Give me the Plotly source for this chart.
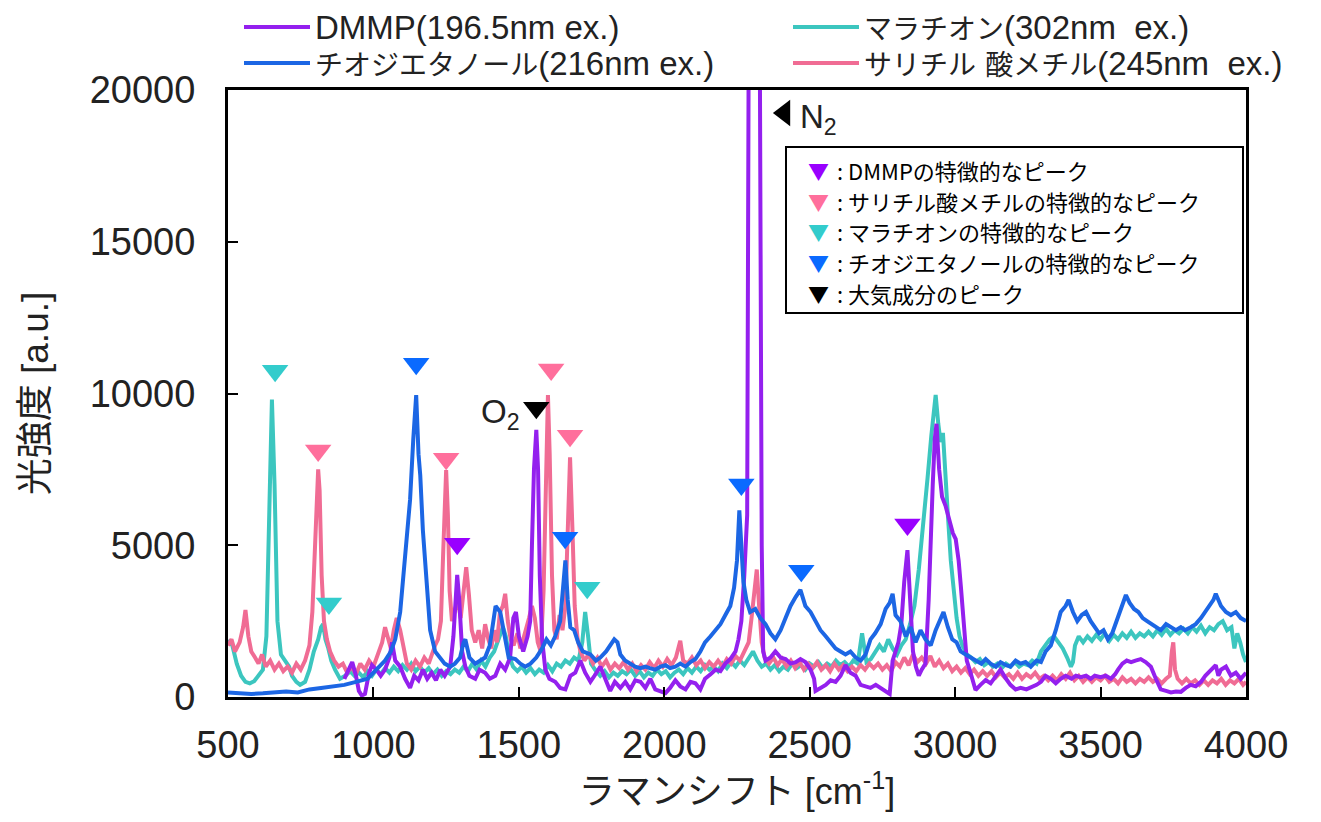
import plotly.graph_objects as go

# ---------------- data ----------------
dmmp_x = [900, 915, 927, 940, 950, 960, 971, 985, 995, 1010, 1025, 1040, 1055, 1064, 1075, 1092, 1109, 1126, 1140, 1155,
          1170, 1185, 1200, 1215, 1230, 1245, 1264, 1275, 1281, 1288, 1295, 1305, 1316, 1330, 1350, 1365, 1384, 1400, 1419,
          1436, 1453, 1470, 1481, 1490, 1500, 1515, 1530, 1539, 1545, 1552, 1560, 1566, 1572, 1580, 1591, 1605, 1625, 1642,
          1660, 1677, 1694, 1711, 1728, 1746, 1760, 1780, 1797, 1814, 1830, 1849, 1866, 1883, 1900, 1918, 1935, 1952, 1969,
          1987, 2004, 2020, 2038, 2055, 2073, 2090, 2107, 2124, 2140, 2159, 2176, 2193, 2210, 2227, 2245, 2255, 2265, 2275,
          2285, 2293, 2308, 2325, 2335, 2340, 2348, 2365, 2382, 2400, 2417, 2434, 2452, 2468, 2485, 2503, 2515, 2520, 2537,
          2555, 2572, 2589, 2606, 2623, 2640, 2658, 2675, 2692, 2709, 2727, 2744, 2761, 2775, 2785, 2795, 2805, 2815, 2825,
          2836, 2845, 2855, 2865, 2875, 2885, 2898, 2909, 2916, 2923, 2930, 2936, 2945, 2955, 2967, 2980, 2992, 3002, 3012,
          3020, 3030, 3040, 3053, 3070, 3087, 3105, 3122, 3140, 3156, 3175, 3190, 3208, 3225, 3245, 3260, 3280, 3295, 3311,
          3329, 3346, 3363, 3380, 3400, 3415, 3432, 3450, 3466, 3480, 3500, 3518, 3535, 3550, 3560, 3575, 3590, 3605, 3620,
          3638, 3655, 3673, 3690, 3707, 3725, 3742, 3759, 3776, 3793, 3810, 3827, 3845, 3860, 3879, 3896, 3905, 3914, 3931,
          3948, 3965, 3982, 4000]
dmmp_y = [600, 900, 1150, 700, 200, 50, 100, 800, 1050, 900, 700, 900, 1300, 1800, 1200, 1000, 600, 300, 700, 550,
          900, 600, 800, 550, 900, 700, 1000, 2000, 3000, 4020, 3200, 1500, 1000, 700, 600, 900, 800, 600, 700,
          1100, 900, 1300, 2600, 2800, 2000, 1500, 2000, 2500, 5000, 7500, 8800, 7500, 4000, 1900, 900, 600, 500, 300,
          250, 700, 800, 1200, 800, 500, 700, 1000, 600, 200, 500, 300, 500, 250, 550, 500, 300, 600, 250,
          200, 130, 300, 550, 350, 250, 500, 450, 250, 600, 750, 900, 850, 1100, 1250, 1500, 1900, 2500, 4000,
          6000, 30000, 60000, 30000, 5000, 1500, 1200, 1300, 1500, 1300, 1250, 1100, 1150, 1250, 1150, 900, 600, 200, 300,
          400, 550, 500, 700, 1050, 800, 700, 400, 350, 300, 400, 300, 200, 100, 1200, 1500, 1800, 2400, 3800,
          4840, 3200, 1500, 1000, 700, 900, 1100, 3200, 5500, 7000, 8500, 9000, 7500, 6600, 6300, 5800, 5400, 5200, 4500,
          3600, 2200, 1200, 800, 230, 400, 560, 450, 700, 900, 600, 400, 250, 300, 250, 300, 400, 500, 700,
          600, 450, 600, 700, 600, 700, 650, 700, 600, 700, 650, 700, 600, 750, 900, 1100, 1200, 1150, 1200,
          1250, 1150, 1000, 600, 250, 200, 150, 180, 170, 300, 400, 350, 500, 700, 900, 1050, 700, 900, 1000,
          700, 800, 600, 800]

thio_x = [500, 540, 580, 620, 660, 700, 740, 780, 820, 860, 900, 940, 980, 1000, 1020, 1040, 1060, 1075, 1092, 1109,
          1126, 1137, 1147, 1155, 1161, 1170, 1178, 1186, 1195, 1212, 1230, 1245, 1264, 1280, 1298, 1310, 1316, 1330,
          1350, 1365, 1384, 1400, 1412, 1420, 1436, 1450, 1465, 1488, 1505, 1522, 1540, 1560, 1580, 1595, 1610, 1625,
          1642, 1652, 1660, 1668, 1677, 1690, 1704, 1720, 1746, 1765, 1780, 1800, 1814, 1828, 1839, 1849, 1865, 1883,
          1900, 1918, 1935, 1950, 1969, 1987, 2004, 2020, 2038, 2055, 2073, 2090, 2107, 2124, 2140, 2159, 2176, 2193,
          2210, 2227, 2240, 2250, 2258, 2264, 2272, 2282, 2295, 2313, 2330, 2348, 2365, 2382, 2400, 2417, 2434, 2452,
          2468, 2485, 2503, 2520, 2537, 2555, 2572, 2589, 2606, 2623, 2640, 2658, 2675, 2692, 2709, 2725, 2744, 2761,
          2775, 2785, 2795, 2812, 2830, 2847, 2864, 2881, 2898, 2916, 2933, 2950, 2960, 2975, 2990, 3005, 3019, 3036,
          3053, 3070, 3090, 3105, 3122, 3140, 3156, 3175, 3190, 3208, 3225, 3242, 3260, 3280, 3295, 3311, 3329, 3346,
          3363, 3380, 3390, 3405, 3420, 3435, 3450, 3466, 3480, 3495, 3510, 3525, 3540, 3555, 3570, 3587, 3600, 3615,
          3630, 3645, 3660, 3675, 3690, 3707, 3725, 3740, 3759, 3776, 3790, 3810, 3827, 3845, 3860, 3875, 3888, 3896,
          3905, 3914, 3931, 3948, 3965, 3982, 4000]
thio_y = [150, 120, 100, 120, 150, 180, 150, 250, 300, 350, 400, 500, 600, 800, 1000, 1200, 1500, 1900, 2800, 4500,
          6500, 8500, 9950, 8000, 7300, 5500, 4400, 3000, 2200, 1500, 1300, 1100, 1000, 1100, 1300, 1800, 1900, 1300,
          1100, 1200, 1300, 1700, 2600, 3000, 2800, 2000, 1300, 1250, 1100, 1000, 1100, 1300, 1600, 1900, 1700, 2000,
          2500, 3600, 4500, 3200, 2300, 2200, 1800, 1500, 1400, 1200, 1300, 1500, 1700, 1900, 1800, 1400, 1200, 1100,
          1000, 950, 1000, 950, 900, 1000, 1050, 950, 1000, 1100, 1000, 1150, 1250, 1500, 1800, 2000, 2200, 2400,
          2700, 3000, 3600, 4500, 6150, 5000, 3800, 3200, 2800, 2900, 2600, 2400, 2100, 1900, 2200, 2600, 3000, 3300,
          3530, 3000, 2800, 2500, 2200, 2000, 1800, 1600, 1500, 1400, 1500, 1300, 1200, 1400, 1900, 2100, 2400, 2900,
          3100, 3400, 2700, 2500, 2000, 2300, 1800, 2200, 1900, 1700, 2200, 2600, 2800, 2300, 1900, 1800, 1500, 1400,
          1300, 1200, 1100, 1250, 1100, 1000, 1150, 1050, 1000, 1200, 1100, 1150, 1000, 1200, 1150, 1500, 1700, 2200,
          2800, 3000, 3200, 2800, 2500, 2700, 2800, 2500, 2300, 2100, 2200, 1900, 2100, 2500, 2900, 3360, 3100, 2900,
          2800, 2600, 2500, 2400, 2300, 2200, 2400, 2300, 2200, 2300, 2200, 2300, 2400, 2600, 2800, 3000, 3200, 3400,
          3200, 3000, 2800, 2700, 2800, 2600, 2500]

mala_x = [500, 515, 530, 545, 560, 575, 590, 605, 620, 632, 642, 651, 660, 670, 682, 696, 710, 720, 735, 748,
          765, 780, 795, 810, 820, 827, 835, 845, 855, 868, 885, 903, 920, 935, 950, 965, 980, 995, 1010, 1025,
          1040, 1055, 1070, 1085, 1100, 1115, 1130, 1145, 1160, 1175, 1190, 1205, 1220, 1235, 1250, 1265, 1280, 1295,
          1310, 1325, 1340, 1355, 1370, 1385, 1400, 1415, 1430, 1445, 1455, 1468, 1480, 1495, 1510, 1525, 1540, 1555,
          1570, 1585, 1600, 1615, 1630, 1645, 1660, 1675, 1690, 1705, 1718, 1728, 1738, 1748, 1762, 1780, 1795, 1810,
          1825, 1840, 1855, 1870, 1885, 1900, 1915, 1930, 1945, 1960, 1975, 1990, 2005, 2020, 2035, 2050, 2065, 2080,
          2095, 2110, 2125, 2140, 2155, 2170, 2185, 2200, 2215, 2230, 2245, 2260, 2275, 2290, 2305, 2320, 2335, 2350,
          2365, 2380, 2395, 2410, 2425, 2440, 2455, 2470, 2485, 2500, 2515, 2530, 2545, 2560, 2575, 2590, 2605, 2620,
          2635, 2650, 2665, 2680, 2695, 2710, 2725, 2740, 2755, 2770, 2785, 2800, 2815, 2830, 2845, 2860, 2875, 2890,
          2905, 2918, 2925, 2933, 2942, 2950, 2958, 2966, 2975, 2985, 2995, 3005, 3015, 3025, 3040, 3055, 3070, 3085,
          3100, 3115, 3130, 3145, 3160, 3175, 3190, 3205, 3220, 3235, 3250, 3265, 3280, 3295, 3310, 3325, 3340, 3355,
          3370, 3385, 3398, 3405, 3412, 3425, 3440, 3455, 3470, 3485, 3500, 3515, 3530, 3545, 3560, 3575, 3590, 3605,
          3620, 3635, 3650, 3665, 3680, 3695, 3710, 3725, 3740, 3755, 3770, 3785, 3800, 3815, 3830, 3845, 3860, 3875,
          3890, 3905, 3920, 3935, 3950, 3960, 3970, 3980, 3990, 4000]
mala_y = [1880, 1700, 1100, 700, 500, 450, 520, 700, 900, 2000, 6000, 9800, 7000, 2500, 1400, 1200, 1000, 700, 500, 400,
          500, 900, 1500, 1900, 2300, 2400, 1900, 1600, 1200, 900, 600, 700, 850, 700, 800, 650, 850, 700, 900, 750,
          950, 800, 1000, 850, 1050, 900, 1100, 850, 1000, 800, 950, 750, 900, 700, 850, 750, 900, 800,
          1000, 850, 1100, 900, 1200, 1000, 1300, 1500, 1900, 2300, 2000, 1300, 1000, 850, 1000, 800, 950, 750,
          900, 800, 1050, 850, 1100, 1000, 1200, 1100, 1300, 1200, 1800, 2800, 2000, 1100, 900, 700, 850, 650,
          800, 700, 850, 750, 900, 700, 850, 650, 800, 700, 900, 750, 850, 650, 800, 900, 750, 950,
          800, 1000, 850, 1050, 900, 1000, 850, 1100, 950, 1150, 1000, 1200, 1050, 1300, 1500, 1200, 1000, 1100,
          900, 1050, 850, 1000, 900, 1100, 950, 1050, 900, 1100, 1000, 1150, 950, 1100, 1000, 1200, 1050, 1150,
          1000, 1200, 1100, 2100, 1150, 1250, 1450, 1700, 1500, 1900, 1600, 1400, 1700, 1900, 2400, 3000, 4200, 5600,
          7200, 8600, 9200, 9950, 9000, 8400, 8700, 7600, 6000, 4500, 3500, 2600, 2000, 1700, 1400, 1300, 1150, 1250,
          1050, 1150, 1000, 1100, 950, 1100, 1000, 1150, 1000, 1100, 1050, 1200, 1100, 1500, 1700, 1900, 2000, 1800,
          1600, 1300, 1000, 1150, 1700, 2000, 1800, 2000, 1850, 2050, 1900, 2100, 1850, 2050, 1900, 2100, 1950, 2150,
          1950, 2100, 2000, 2150, 2000, 2200, 2050, 2250, 2050, 2200, 2100, 2250, 2100, 2300, 2150, 2350, 2100, 2300,
          2200, 2400, 2500, 2200, 2300, 1600, 2100, 1800, 1400, 1150]

sali_x = [500, 512, 524, 540, 552, 560, 570, 580, 593, 605, 617, 630, 645, 660, 675, 690, 705, 720, 735, 750,
          765, 780, 790, 798, 805, 810, 815, 822, 830, 840, 851, 865, 880, 895, 910, 925, 940, 955, 970, 985,
          1000, 1015, 1030, 1040, 1050, 1060, 1070, 1080, 1092, 1105, 1115, 1130, 1145, 1160, 1175, 1190, 1200, 1212,
          1222, 1232, 1240, 1246, 1250, 1256, 1262, 1270, 1280, 1290, 1300, 1310, 1319, 1328, 1338, 1350, 1362, 1374,
          1384, 1395, 1405, 1415, 1425, 1435, 1445, 1453, 1462, 1472, 1482, 1495, 1505, 1515, 1525, 1535, 1545, 1555,
          1565, 1575, 1585, 1592, 1600, 1606, 1614, 1622, 1630, 1640, 1650, 1660, 1668, 1676, 1684, 1692, 1702, 1712,
          1725, 1740, 1755, 1770, 1785, 1800, 1815, 1830, 1845, 1860, 1875, 1890, 1905, 1920, 1935, 1950, 1965, 1980,
          1995, 2010, 2025, 2040, 2055, 2065, 2080, 2095, 2110, 2125, 2140, 2155, 2170, 2185, 2200, 2215, 2230, 2245,
          2260, 2275, 2290, 2300, 2310, 2318, 2326, 2335, 2345, 2360, 2375, 2390, 2405, 2420, 2435, 2450, 2465, 2480,
          2495, 2510, 2525, 2540, 2555, 2570, 2585, 2600, 2615, 2630, 2645, 2660, 2675, 2690, 2705, 2720, 2735, 2750,
          2765, 2780, 2795, 2810, 2825, 2840, 2855, 2870, 2885, 2900, 2915, 2930, 2945, 2960, 2975, 2990, 3005, 3020,
          3035, 3050, 3065, 3080, 3095, 3110, 3125, 3140, 3155, 3170, 3185, 3200, 3215, 3230, 3245, 3260, 3275, 3290,
          3305, 3320, 3335, 3350, 3365, 3380, 3395, 3410, 3425, 3440, 3455, 3470, 3485, 3500, 3515, 3530, 3545, 3560,
          3575, 3590, 3605, 3620, 3635, 3650, 3665, 3680, 3695, 3710, 3725, 3738, 3745, 3750, 3756, 3765, 3780, 3795,
          3810, 3825, 3840, 3855, 3870, 3885, 3900, 3915, 3930, 3945, 3960, 3975, 3990, 4000]
sali_y = [1700, 1900, 1500, 1800, 2300, 2870, 2000, 1500, 1300, 1100, 1400, 1000, 1200, 900, 1100, 850, 1000, 800, 1100, 900,
          1200, 1700, 2800, 5000, 6500, 7500, 6800, 4000, 2500, 1900, 1500, 1200, 1000, 1100, 800, 1000, 750, 1100, 900, 1200,
          1000, 1400, 1800, 2300, 2000, 1600, 2200, 2600, 2200, 1500, 1100, 900, 1200, 1000, 1300, 1100, 1400, 1700,
          1900, 2500, 4800, 7000, 7480, 6000, 3500, 2500, 2900, 3200, 2600, 3600, 4280, 3400, 2200, 1800, 2200, 1600,
          2400, 1900, 1600, 2200, 1800, 2800, 3000, 3400, 2500, 1900, 1700, 2100, 1600, 1900, 2200, 2600, 3000, 2600,
          1800, 1500, 3500, 7000, 9950, 8000, 4000, 2200, 1900, 2700, 2200, 3000, 5500, 7900, 5600, 3000, 1900, 1500,
          1200, 1400, 1100, 1300, 1000, 1200, 900, 1100, 950, 1150, 900, 1100, 850, 1050, 900, 1150, 950, 1200,
          1000, 1250, 1050, 1300, 1850, 1200, 1100, 1300, 1050, 1200, 950, 1150, 1000, 1200, 1000, 1250, 1100, 1350,
          1200, 1500, 1800, 2600, 3500, 4200, 3000, 1800, 1300, 1100, 1300, 1050, 1250, 1000, 1200, 950, 1150, 900,
          1100, 950, 1150, 900, 1050, 850, 1100, 900, 1050, 850, 1000, 850, 1050, 900, 1100, 950, 1100, 900,
          1050, 850, 1150, 1000, 1300, 1050, 1400, 1150, 1300, 1100, 1350, 1000, 1200, 950, 1100, 850, 1000, 800,
          950, 750, 900, 700, 850, 700, 850, 650, 800, 650, 750, 600, 800, 600, 750, 650, 800, 600,
          700, 550, 700, 550, 750, 600, 800, 550, 700, 500, 650, 500, 650, 550, 700, 500, 600, 450,
          650, 500, 600, 450, 600, 500, 650, 500, 600, 450, 600, 700, 1500, 1800, 900, 600, 450, 600,
          450, 550, 400, 550, 400, 550, 450, 600, 400, 550, 450, 600, 400, 500]

# characteristic peak markers
dmmp_peak_x = [1288, 2836]
dmmp_peak_y = [5050, 5680]
sali_peak_x = [810, 1250, 1611, 1676]
sali_peak_y = [8120, 7850, 10790, 8610]
mala_peak_x = [662, 847, 1735]
mala_peak_y = [10750, 3080, 3600]
thio_peak_x = [1147, 1659, 2265, 2471]
thio_peak_y = [10980, 5250, 7000, 4160]
air_down_x, air_down_y = [1560], [9530]
air_left_x, air_left_y = [2413], [19243]

series_names = ["DMMP(196.5nm ex.)", "マラチオン(302nm\u00a0 ex.)",
                "チオジエタノール(216nm ex.)", "サリチル 酸メチル(245nm\u00a0 ex.)"]
x_ticks = [500, 1000, 1500, 2000, 2500, 3000, 3500, 4000]
y_ticks = [0, 5000, 10000, 15000, 20000]
legend_box_texts = ["DMMPの特徴的なピーク", "サリチル酸メチルの特徴的なピーク",
                    "マラチオンの特徴的なピーク", "チオジエタノールの特徴的なピーク", "大気成分のピーク"]

# ---------------- styling ----------------
C_DMMP = "#9420EE"
C_MALA = "#3CC6BF"
C_THIO = "#1C66E4"
C_SALI = "#F06C94"
M_DMMP = "#9900FF"
M_SALI = "#FF6F9C"
M_MALA = "#33CCCC"
M_THIO = "#0A6AFF"
LATIN = "Liberation Sans, Noto Sans CJK JP, sans-serif"
CJK = "Noto Sans CJK JP, sans-serif"

# page geometry (the html body adds an 8 px offset)
OFF = 8
FW, FH = 1321 - OFF, 822 - OFF
L, R, T, B = 228, 1246, 90, 697          # plot box in page pixels
W, H = R - L, B - T

fig = go.Figure()
LW = 4
fig.add_trace(go.Scatter(x=mala_x, y=mala_y, mode="lines", line=dict(color=C_MALA, width=LW), name=series_names[1]))
fig.add_trace(go.Scatter(x=sali_x, y=sali_y, mode="lines", line=dict(color=C_SALI, width=LW), name=series_names[3]))
fig.add_trace(go.Scatter(x=dmmp_x, y=dmmp_y, mode="lines", line=dict(color=C_DMMP, width=LW), name=series_names[0]))
fig.add_trace(go.Scatter(x=thio_x, y=thio_y, mode="lines", line=dict(color=C_THIO, width=LW), name=series_names[2]))

MS = 23
for px, py, col in [(dmmp_peak_x, dmmp_peak_y, M_DMMP), (sali_peak_x, sali_peak_y, M_SALI),
                    (mala_peak_x, mala_peak_y, M_MALA), (thio_peak_x, thio_peak_y, M_THIO),
                    (air_down_x, air_down_y, "black")]:
    fig.add_trace(go.Scatter(x=px, y=py, mode="markers", showlegend=False,
                             marker=dict(symbol="triangle-down", size=MS, color=col, line=dict(width=0))))
fig.add_trace(go.Scatter(x=air_left_x, y=air_left_y, mode="markers", showlegend=False,
                         marker=dict(symbol="triangle-left", size=MS, color="black", line=dict(width=0))))

# labels O2 / N2
fig.add_annotation(x=air_down_x[0], y=air_down_y[0], text="O<sub>2</sub>", showarrow=False,
                   xanchor="right", xshift=-14, yshift=-6, font=dict(family=LATIN, size=33, color="#222"))
fig.add_annotation(x=air_left_x[0], y=air_left_y[0], text="N<sub>2</sub>", showarrow=False,
                   xanchor="left", xshift=14, yshift=-6, font=dict(family=LATIN, size=33, color="#222"))


def px2x(p):
    return (p - L) / W


def py2y(p):
    return (B - p) / H


def mixed(name):
    # Japanese characters a bit smaller than the Latin ones, like the reference
    out, run = "", ""
    for ch in name:
        if ord(ch) >= 0x2E80:
            run += ch
        else:
            if run:
                out += "<span style='font-size:28px'>" + run + "</span>"
                run = ""
            out += ch
    if run:
        out += "<span style='font-size:28px'>" + run + "</span>"
    return out


# ---------------- top legend (custom) ----------------
leg_items = [(series_names[0], C_DMMP, 244, 27), (series_names[1], C_MALA, 793, 27),
             (series_names[2], C_THIO, 244, 63), (series_names[3], C_SALI, 793, 63)]
for txt, col, x0, yc in leg_items:
    fig.add_shape(type="line", xref="paper", yref="paper", x0=px2x(x0), x1=px2x(x0 + 66),
                  y0=py2y(yc), y1=py2y(yc), line=dict(color=col, width=4))
    fig.add_annotation(xref="paper", yref="paper", x=px2x(x0 + 70), y=py2y(yc), text=mixed(txt),
                       showarrow=False, xanchor="left", yanchor="middle", borderpad=0,
                       font=dict(family=LATIN, size=33, color="#222"))

# ---------------- inner legend box ----------------
fig.add_shape(type="rect", xref="paper", yref="paper", x0=px2x(786), x1=px2x(1243),
              y0=py2y(313), y1=py2y(147), line=dict(color="black", width=2), fillcolor="white", layer="above")
box_cols = [M_DMMP, M_SALI, M_MALA, M_THIO, "black"]
box_y = [170, 201, 231, 262, 293]
for txt, col, yc in zip(legend_box_texts, box_cols, box_y):
    fig.add_annotation(xref="paper", yref="paper", x=px2x(818), y=py2y(yc), text="▼", showarrow=False,
                       xanchor="center", yanchor="middle", font=dict(family=CJK, size=21, color=col))
    fig.add_annotation(xref="paper", yref="paper", x=px2x(835), y=py2y(yc), text=": " + txt, showarrow=False,
                       xanchor="left", yanchor="middle", font=dict(family=CJK, size=22, color="black"))

# ---------------- axes ----------------
axis_common = dict(showline=True, linecolor="black", linewidth=3, mirror=True, ticks="inside",
                   ticklen=10, tickwidth=2, tickcolor="black", showgrid=False, zeroline=False,
                   tickfont=dict(family=LATIN, size=38, color="#222"))
fig.update_xaxes(range=[500, 4000], tickvals=x_ticks, ticktext=[str(v) for v in x_ticks], ticklabelstandoff=12,
                 title=dict(text="ラマンシフト [cm<sup>-1</sup>]", font=dict(family=LATIN, size=36, color="#222"),
                            standoff=12), **axis_common)
fig.update_yaxes(range=[0, 20000], tickvals=y_ticks, ticktext=[str(v) for v in y_ticks], ticklabelstandoff=22,
                 title=dict(text="光強度 [a.u.]", font=dict(family=LATIN, size=37, color="#222"), standoff=30),
                 **axis_common)

fig.update_layout(width=FW, height=FH, showlegend=False,
                  margin=dict(l=L - OFF, r=FW + OFF - R, t=T - OFF, b=FH + OFF - B, autoexpand=False),
                  paper_bgcolor="white", plot_bgcolor="white")

fig.write_html("out.html")
